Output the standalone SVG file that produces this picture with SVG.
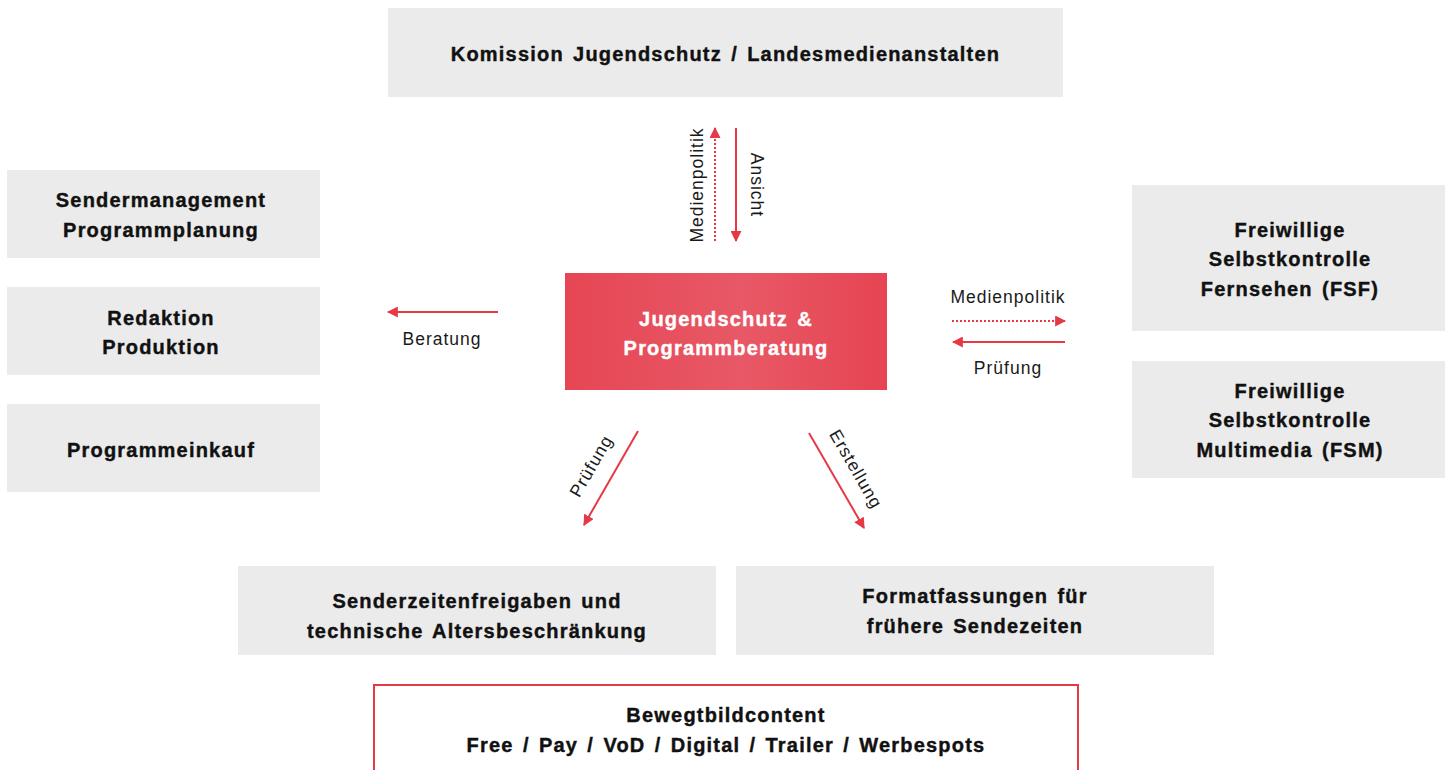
<svg xmlns="http://www.w3.org/2000/svg" width="1449" height="770" viewBox="0 0 1449 770">
<defs>
<style>
.box{fill:#ebebeb}
.t{font-family:"Liberation Sans",Arial,sans-serif;font-weight:bold;font-size:20px;letter-spacing:1.2px;word-spacing:2.5px;fill:#111;text-anchor:middle;stroke:#111;stroke-width:0.4px}
.tw{fill:#fff;stroke:#fff}
.l{font-family:"Liberation Sans",Arial,sans-serif;font-size:17.5px;letter-spacing:1px;fill:#1a1a1a;text-anchor:middle}
.a{stroke:#e63946;stroke-width:2;fill:none}
.d{stroke-dasharray:2 2}
</style>
<linearGradient id="g" x1="0" x2="1" y1="0" y2="0">
<stop offset="0" stop-color="#e64654"/>
<stop offset="0.55" stop-color="#e85866"/>
<stop offset="1" stop-color="#e64452"/>
</linearGradient>
<marker id="ah" viewBox="0 0 10 10" refX="9" refY="5" markerWidth="5.5" markerHeight="5.5" orient="auto" markerUnits="strokeWidth">
<path d="M0,0 L10,5 L0,10 z" fill="#e63946"/>
</marker>
</defs>
<g id="n-komission"><rect class="box" x="388" y="8" width="675" height="89"/><text class="t" x="725.5" y="61">Komission Jugendschutz / Landesmedienanstalten</text></g>
<g id="n-sendermanagement"><rect class="box" x="7" y="170" width="313" height="88"/><text class="t" x="161" y="207">Sendermanagement</text><text class="t" x="161" y="237">Programmplanung</text></g>
<g id="n-redaktion"><rect class="box" x="7" y="287" width="313" height="88"/><text class="t" x="161" y="325">Redaktion</text><text class="t" x="161" y="354">Produktion</text></g>
<g id="n-programmeinkauf"><rect class="box" x="7" y="404" width="313" height="88"/><text class="t" x="161" y="457">Programmeinkauf</text></g>
<g id="n-fsf"><rect class="box" x="1132" y="185" width="313" height="146"/><text class="t" x="1290" y="237">Freiwillige</text><text class="t" x="1290" y="266">Selbstkontrolle</text><text class="t" x="1290" y="296">Fernsehen (FSF)</text></g>
<g id="n-fsm"><rect class="box" x="1132" y="361" width="313" height="117"/><text class="t" x="1290" y="398">Freiwillige</text><text class="t" x="1290" y="427">Selbstkontrolle</text><text class="t" x="1290" y="457">Multimedia (FSM)</text></g>
<g id="n-center"><rect x="565" y="273" width="322" height="117" fill="url(#g)"/><text class="t tw" x="726" y="326">Jugendschutz &amp;</text><text class="t tw" x="726" y="355">Programmberatung</text></g>
<g id="n-senderzeiten"><rect class="box" x="238" y="566" width="478" height="89"/><text class="t" x="477" y="608">Senderzeitenfreigaben und</text><text class="t" x="477" y="638">technische Altersbeschränkung</text></g>
<g id="n-format"><rect class="box" x="736" y="566" width="478" height="89"/><text class="t" x="975" y="603">Formatfassungen für</text><text class="t" x="975" y="633">frühere Sendezeiten</text></g>
<g id="n-bewegtbild"><rect x="374" y="685" width="704" height="100" fill="none" stroke="#e63946" stroke-width="2"/><text class="t" x="726" y="722">Bewegtbildcontent</text><text class="t" x="726" y="752">Free / Pay / VoD / Digital / Trailer / Werbespots</text></g>
<g id="connectors">
<line class="a d" x1="715" y1="241" x2="715" y2="128" marker-end="url(#ah)"/>
<line class="a" x1="736" y1="128" x2="736" y2="241" marker-end="url(#ah)"/>
<line class="a" x1="498" y1="312" x2="388" y2="312" marker-end="url(#ah)"/>
<line class="a d" x1="952" y1="321" x2="1065" y2="321" marker-end="url(#ah)"/>
<line class="a" x1="1065" y1="342" x2="953" y2="342" marker-end="url(#ah)"/>
<line class="a" x1="638" y1="431" x2="584" y2="525" marker-end="url(#ah)"/>
<line class="a" x1="809" y1="433" x2="864" y2="528" marker-end="url(#ah)"/>
<text class="l" transform="translate(697,185) rotate(-90)" y="6">Medienpolitik</text>
<text class="l" transform="translate(757,185) rotate(90)" y="6">Ansicht</text>
<text class="l" x="442" y="345">Beratung</text>
<text class="l" x="1008" y="303">Medienpolitik</text>
<text class="l" x="1008" y="374">Prüfung</text>
<text class="l" transform="translate(591,466) rotate(-60)" y="6">Prüfung</text>
<text class="l" transform="translate(856,469) rotate(60)" y="6">Erstellung</text>
</g>
</svg>
